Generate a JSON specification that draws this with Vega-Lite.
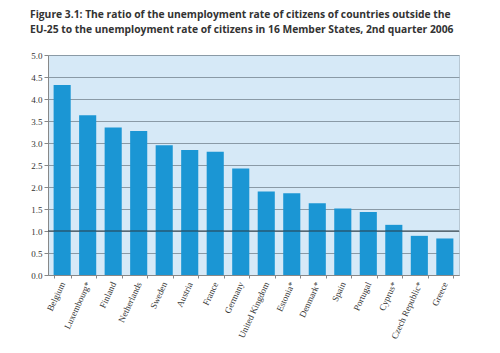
{
  "$schema": "https://vega.github.io/schema/vega-lite/v6.json",
  "autosize": "none",
  "width": 411,
  "height": 220,
  "padding": {"left": 48, "top": 55, "right": 41, "bottom": 78},
  "background": "white",
  "title": {
    "text": ["Figure 3.1: The ratio of the unemployment rate of citizens of countries outside the", "EU-25 to the unemployment rate of citizens in 16 Member States, 2nd quarter 2006"],
    "anchor": "start",
    "frame": "group",
    "dx": -18,
    "offset": 16,
    "font": "Open Sans",
    "fontSize": 10.3,
    "fontWeight": "bold",
    "color": "#333333",
    "lineHeight": 15
  },
  "config": {
    "view": {"fill": "#d6e9f7", "stroke": "#b8c8d4", "strokeWidth": 1},
    "axis": {
      "labelFont": "Liberation Serif",
      "labelFontSize": 9,
      "labelColor": "#333333",
      "domainColor": "#888888",
      "tickColor": "#888888",
      "tickSize": 4,
      "labelOverlap": false
    }
  },
  "data": {
    "values": [
      {"country": "Belgium", "ratio": 4.32},
      {"country": "Luxembourg*", "ratio": 3.63},
      {"country": "Finland", "ratio": 3.35},
      {"country": "Netherlands", "ratio": 3.27},
      {"country": "Sweden", "ratio": 2.95},
      {"country": "Austria", "ratio": 2.84},
      {"country": "France", "ratio": 2.8},
      {"country": "Germany", "ratio": 2.42},
      {"country": "United Kingdom", "ratio": 1.9},
      {"country": "Estonia*", "ratio": 1.86},
      {"country": "Denmark*", "ratio": 1.63},
      {"country": "Spain", "ratio": 1.51},
      {"country": "Portugal", "ratio": 1.43},
      {"country": "Cyprus*", "ratio": 1.14},
      {"country": "Czech Republic*", "ratio": 0.89},
      {"country": "Greece", "ratio": 0.83}
    ]
  },
  "layer": [
    {
      "mark": {"type": "bar", "color": "#1b96d4"},
      "encoding": {
        "x": {
          "field": "country",
          "type": "nominal",
          "sort": null,
          "title": null,
          "scale": {"paddingInner": 0.33, "paddingOuter": 0.22},
          "axis": {"labelAngle": -65, "tickBand": "extent", "labelPadding": 4, "tickSize": 3}
        },
        "y": {
          "field": "ratio",
          "type": "quantitative",
          "title": null,
          "scale": {"domain": [0, 5]},
          "axis": {
            "values": [0, 0.5, 1, 1.5, 2, 2.5, 3, 3.5, 4, 4.5, 5],
            "format": ".1f",
            "grid": true,
            "gridColor": "#8a9aa6",
            "gridWidth": 1,
            "labelPadding": 2,
            "labelOverlap": false
          }
        }
      }
    },
    {
      "data": {"values": [{"ref": 1}]},
      "mark": {"type": "rule", "color": "#2a3a44", "strokeWidth": 1.2},
      "encoding": {
        "y": {
          "field": "ref",
          "type": "quantitative",
          "title": null,
          "scale": {"domain": [0, 5]},
          "axis": {
            "values": [0, 0.5, 1, 1.5, 2, 2.5, 3, 3.5, 4, 4.5, 5],
            "format": ".1f",
            "grid": true,
            "gridColor": "#8a9aa6",
            "gridWidth": 1,
            "labelPadding": 2,
            "labelOverlap": false
          }
        }
      }
    }
  ]
}
